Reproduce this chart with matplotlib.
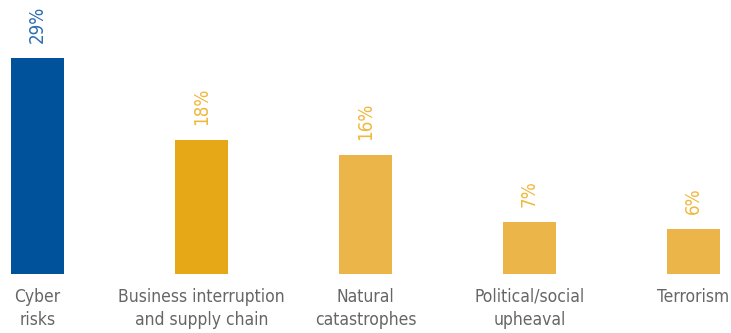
import matplotlib
matplotlib.use("Agg")
import matplotlib.pyplot as plt

categories = ["Cyber\nrisks", "Business interruption\nand supply chain",
              "Natural\ncatastrophes", "Political/social\nupheaval", "Terrorism"]
values = [29, 18, 16, 7, 6]
value_labels = ["29%", "18%", "16%", "7%", "6%"]

bar_colors = ["#00539b", "#e6a817", "#ecb54a", "#ecb54a", "#ecb54a"]
label_colors = ["#2e6fb3", "#f0b83e", "#f0b83e", "#f0b83e", "#f0b83e"]

plt.rcParams["font.family"] = ["DejaVu Sans"]
plt.rcParams["font.stretch"] = "condensed"

fig = plt.figure(figsize=(7.31, 3.33), dpi=100)
ax = fig.add_axes([0, 59 / 333, 1, 274 / 333])

x = list(range(len(values)))
bars = ax.bar(x, values, width=53 / 164, color=bar_colors)

for rect, txt, col in zip(bars, value_labels, label_colors):
    ax.annotate(txt, (rect.get_x() + rect.get_width() / 2, rect.get_height()),
                xytext=(0, 11), textcoords="offset points",
                rotation=90, ha="center", va="bottom",
                fontsize=13.5, color=col, fontstretch="condensed")

ax.set_xlim(-37.5 / 164, (731 - 37.5) / 164)
ax.set_ylim(0, 274 / 7.44)
for s in ax.spines.values():
    s.set_visible(False)
ax.set_yticks([])
ax.set_xticks(x)
ax.set_xticklabels(categories, fontsize=12.5, color="#666666", linespacing=1.35,
                   fontstretch="condensed")
ax.tick_params(axis="x", length=0, pad=10)

fig.savefig("out.png", dpi=100)
